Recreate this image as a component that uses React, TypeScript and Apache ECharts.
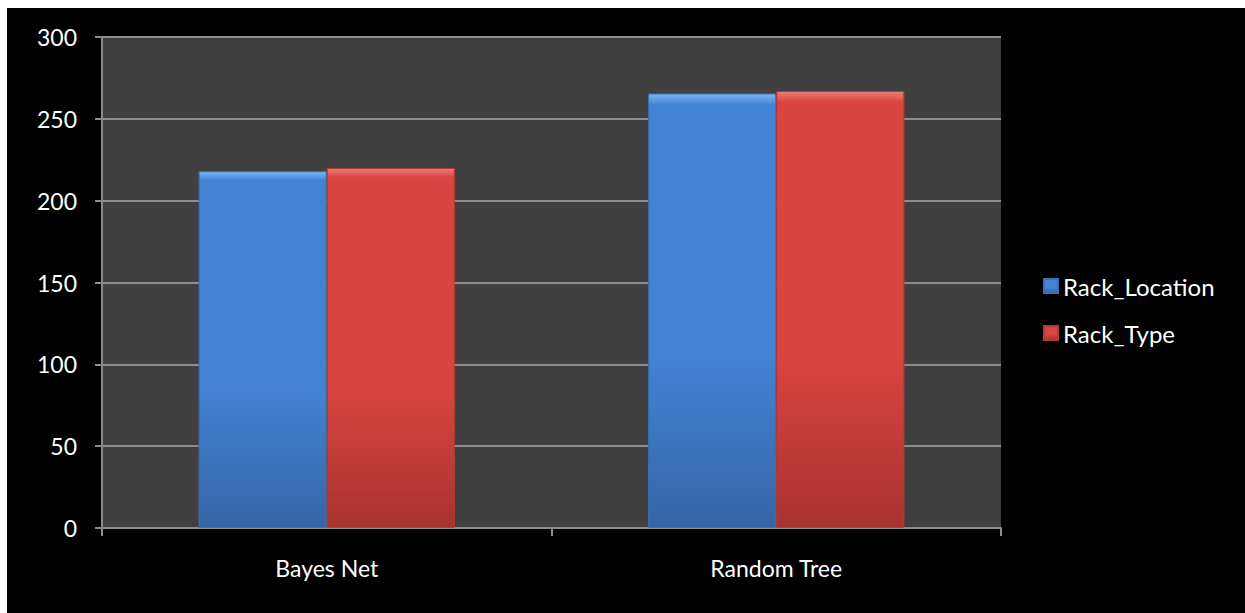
import React, { useEffect, useRef } from "react";
import * as echarts from "echarts";

const categories = ["Bayes Net", "Random Tree"];
const rackLocation = [218, 265.5];
const rackType = [220, 267];
const yTicks = { min: 0, max: 300, interval: 50 };

const FONT = "Lato, 'Open Sans', sans-serif";

function barGradient(top: string, mid: string, bottom: string) {
  return new echarts.graphic.LinearGradient(0, 0, 0, 1, [
    { offset: 0, color: top },
    { offset: 0.025, color: mid },
    { offset: 0.6, color: mid },
    { offset: 1, color: bottom },
  ]);
}

export default function App() {
  const ref = useRef<HTMLDivElement>(null);
  useEffect(() => {
    if (!ref.current) return;
    const chart = echarts.init(ref.current, null, { renderer: "svg" });
    chart.setOption({
      animation: false,
      backgroundColor: "#000000",
      textStyle: { fontFamily: FONT },
      grid: {
        left: 95,
        top: 29,
        right: 244,
        bottom: 85,
        show: true,
        backgroundColor: "#404040",
        borderWidth: 0,
      },
      legend: {
        orient: "vertical",
        left: 1031,
        top: 261,
        itemWidth: 14,
        itemHeight: 14,
        itemGap: 23,
        icon: "rect",
        textStyle: { color: "#ffffff", fontSize: 24, fontFamily: FONT },
        data: ["Rack_Location", "Rack_Type"],
      },
      xAxis: {
        type: "category",
        data: categories,
        axisLine: { show: true, lineStyle: { color: "#8c8c8c", width: 2 } },
        axisTick: { show: true, length: 8, lineStyle: { color: "#8c8c8c", width: 2 } },
        axisLabel: { color: "#ffffff", fontSize: 23, margin: 28, fontFamily: FONT },
        splitLine: { show: false },
      },
      yAxis: {
        type: "value",
        min: yTicks.min,
        max: yTicks.max,
        interval: yTicks.interval,
        axisLine: { show: true, lineStyle: { color: "#8c8c8c", width: 2 } },
        axisTick: { show: true, length: 7, lineStyle: { color: "#8c8c8c", width: 2 } },
        axisLabel: { color: "#ffffff", fontSize: 23, margin: 25, fontFamily: FONT },
        splitLine: { show: true, lineStyle: { color: "#8c8c8c", width: 2 } },
      },
      series: [
        {
          name: "Rack_Location",
          type: "bar",
          data: rackLocation,
          barGap: "0%",
          barCategoryGap: "43%",
          itemStyle: {
            color: barGradient("#7ab8f5", "#4383d4", "#3565a8"),
            borderColor: "#3a70b8",
            borderWidth: 1,
          },
        },
        {
          name: "Rack_Type",
          type: "bar",
          data: rackType,
          barGap: "0%",
          barCategoryGap: "43%",
          itemStyle: {
            color: barGradient("#f07a76", "#d94541", "#a9322f"),
            borderColor: "#b83a36",
            borderWidth: 1,
          },
        },
      ],
    });
    return () => chart.dispose();
  }, []);
  return (
    <div
      ref={ref}
      style={{ position: "absolute", left: 7, top: 8, width: 1238, height: 605 }}
    />
  );
}
